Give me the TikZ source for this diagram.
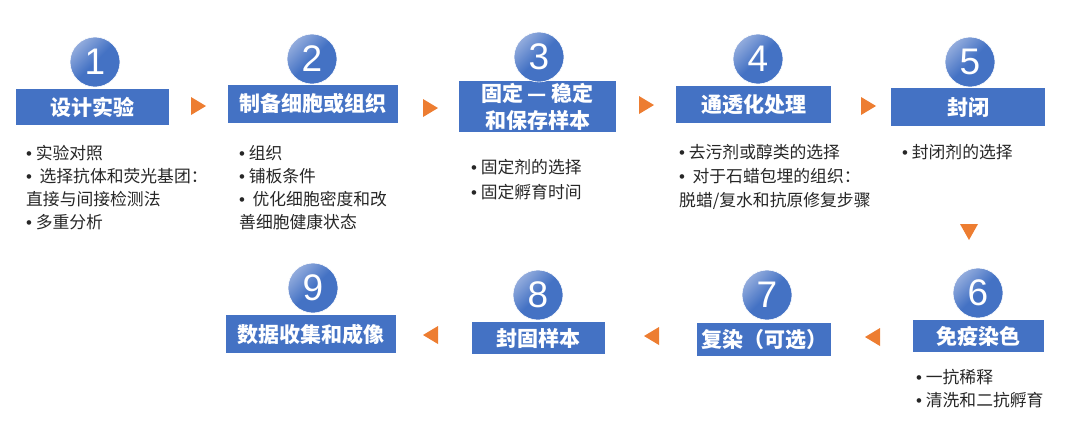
\documentclass[tikz,border=0pt]{standalone}
\usepackage{fontspec}
\setmainfont{Noto Sans CJK SC}
\newfontfamily\digitfont{Liberation Sans}
\usetikzlibrary{calc}
\definecolor{boxblue}{HTML}{4472C4}
\definecolor{circlight}{HTML}{93ACDD}
\definecolor{arrorange}{HTML}{ED7D31}
\definecolor{textdark}{HTML}{262626}
\newcommand{\bl}{{\digitfont •}}
\begin{document}
\begin{tikzpicture}[x=1pt,y=-1pt,
  stepbox/.style={fill=boxblue, text=white, font=\fontsize{21}{27}\selectfont\bfseries, inner sep=0pt, align=center},
  numcirc/.style={circle, minimum size=50pt, inner sep=0pt, draw=white, line width=0.6pt,
    top color=circlight, bottom color=boxblue, middle color=boxblue, shading angle=45,
    text=white, font=\digitfont\fontsize{37}{37}\selectfont},
  bul/.style={anchor=west, inner sep=0pt, text=textdark, font=\fontsize{16.8}{20}\selectfont},
  tri/.style={fill=arrorange}]
\useasboundingbox (0,0) rectangle (1080,445);

% step boxes
\node[stepbox, minimum width=153pt, minimum height=36pt] (s1) at (92.5,107) {设计实验};
\node[stepbox, minimum width=170pt, minimum height=38pt] (s2) at (313,104) {制备细胞或组织};
\node[stepbox, minimum width=157pt, minimum height=51pt] (s3) at (537.5,106.5) {固定 — 稳定\\和保存样本};
\node[stepbox, minimum width=155pt, minimum height=37pt] (s4) at (753.5,104.5) {通透化处理};
\node[stepbox, minimum width=154pt, minimum height=38pt] (s5) at (968,107) {封闭};
\node[stepbox, minimum width=131pt, minimum height=32pt] (s6) at (978.5,336) {免疫染色};
\node[stepbox, minimum width=134pt, minimum height=33pt] (s7) at (764,339.5) {复染（可选）};
\node[stepbox, minimum width=133pt, minimum height=32pt] (s8) at (538.5,338) {封固样本};
\node[stepbox, minimum width=170pt, minimum height=38pt] (s9) at (311,334) {数据收集和成像};

% number circles
\node[numcirc] (c1) at (95,62) {1};
\node[numcirc] (c2) at (312,59) {2};
\node[numcirc] (c3) at (539,57) {3};
\node[numcirc] (c4) at (758,59) {4};
\node[numcirc] (c5) at (970,62) {5};
\node[numcirc] (c6) at (978,293) {6};
\node[numcirc] (c7) at (767,295) {7};
\node[numcirc] (c8) at (538,295) {8};
\node[numcirc] (c9) at (313,288) {9};

% orange triangles
\fill[tri] (191,97) -- (191,115) -- (206,106) -- cycle;
\fill[tri] (423,99) -- (423,117) -- (438,108) -- cycle;
\fill[tri] (639,96) -- (639,114) -- (654,105) -- cycle;
\fill[tri] (861,97) -- (861,115) -- (876,106) -- cycle;
\fill[tri] (960,224) -- (978,224) -- (969,240) -- cycle;
\fill[tri] (880,328) -- (880,346) -- (865,337) -- cycle;
\fill[tri] (659,327) -- (659,345) -- (644,336) -- cycle;
\fill[tri] (438,326) -- (438,344) -- (423,335) -- cycle;

% bullet texts
\foreach \t [count=\i] in {\bl\ 实验对照, \bl\ \ 选择抗体和荧光基团：, 直接与间接检测法, \bl\ 多重分析}
  \node[bul] (t1-\i) at (26,{153+23*(\i-1)}) {\t};
\foreach \t [count=\i] in {\bl\ 组织, \bl\ 铺板条件, \bl\ \ 优化细胞密度和改, 善细胞健康状态}
  \node[bul] (t2-\i) at (239,{153+23*(\i-1)}) {\t};
\foreach \t [count=\i] in {\bl\ 固定剂的选择, \bl\ 固定孵育时间}
  \node[bul] (t3-\i) at (471,{167+25*(\i-1)}) {\t};
\foreach \t [count=\i] in {\bl\ 去污剂或醇类的选择, \bl\ \ 对于石蜡包埋的组织：, 脱蜡/复水和抗原修复步骤}
  \node[bul] (t4-\i) at (679,{152+24.5*(\i-1)}) {\t};
\node[bul] (t5-1) at (902,152) {\bl\ 封闭剂的选择};
\foreach \t [count=\i] in {\bl\ 一抗稀释, \bl\ 清洗和二抗孵育}
  \node[bul] (t6-\i) at (916,{377+23*(\i-1)}) {\t};
\end{tikzpicture}
\end{document}
